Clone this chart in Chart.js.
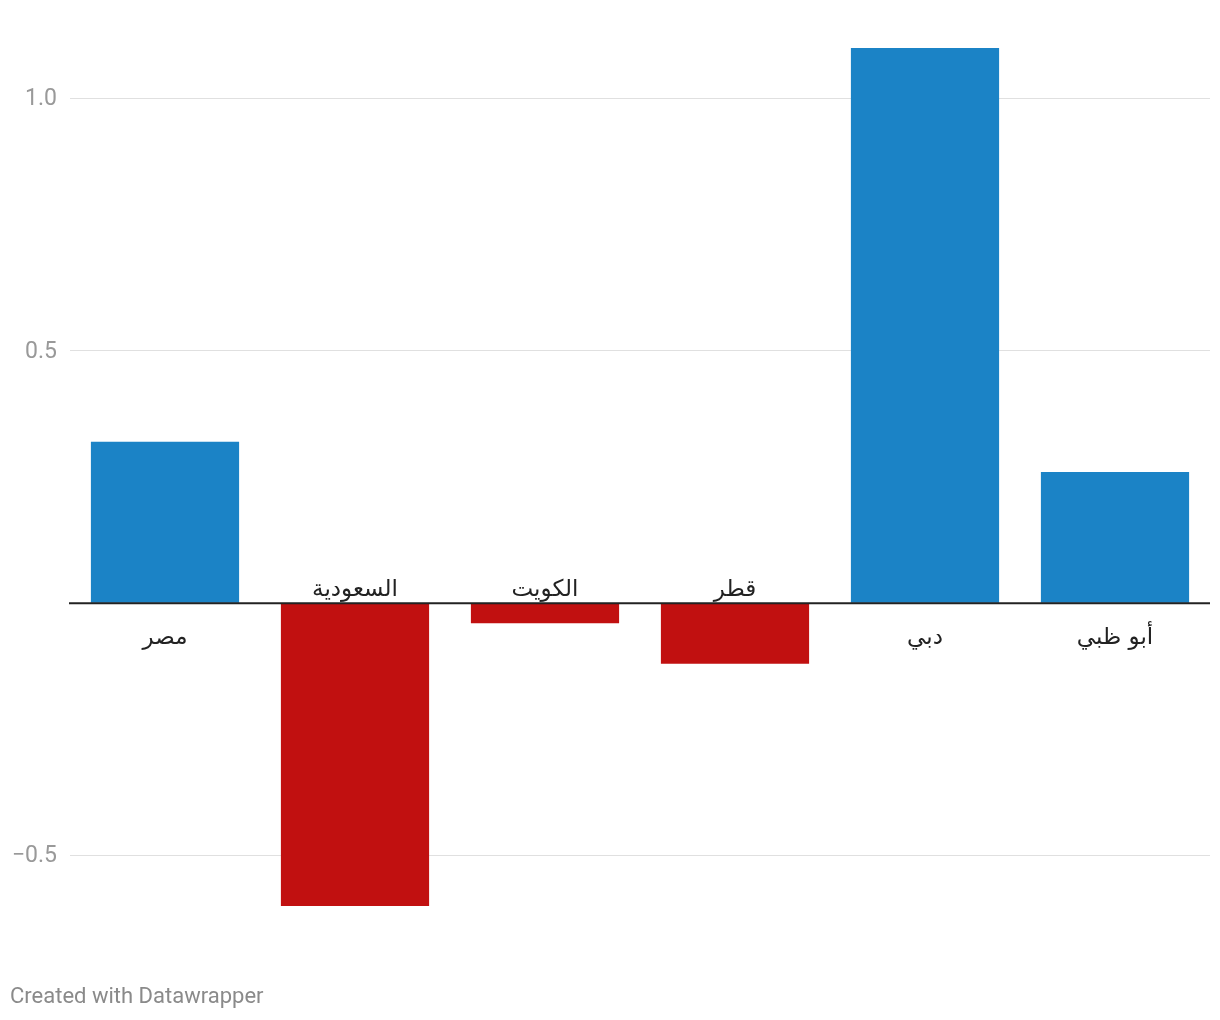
<!DOCTYPE html>
<html lang="ar">
<head>
    <meta charset="UTF-8">
    <title>Bar chart</title>
    <style>
        body {
            margin: 0;
            background: #ffffff;
            font-family: Roboto, "DejaVu Sans", sans-serif;
        }
        #wrap {
            position: relative;
            width: 1220px;
            height: 1020px;
        }
        .footer {
            position: absolute;
            left: 10px;
            top: 983px;
            font-size: 22px;
            color: #8a8a8a;
        }
    </style>
</head>
<body>
    <div id="wrap">
        <canvas id="chart" width="1220" height="1020"></canvas>
        <div class="footer">Created with Datawrapper</div>
    </div>

    <script src="https://cdn.jsdelivr.net/npm/chart.js"></script>
    <script>
        const categories = ['مصر', 'السعودية', 'الكويت', 'قطر', 'دبي', 'أبو ظبي'];
        const values = [0.32, -0.6, -0.04, -0.12, 1.1, 0.26];
        const tickValues = [-0.5, 0, 0.5, 1.0];
        const tickLabels = ['−0.5', '', '0.5', '1.0'];

        const BLUE = '#1b83c6';
        const RED = '#c11010';

        // labels for y ticks, category names and the zero line
        const overlay = {
            id: 'overlay',
            afterDatasetsDraw(chart) {
                const ctx = chart.ctx;
                const y = chart.scales.y;
                const x = chart.scales.x;
                const area = chart.chartArea;
                const zero = y.getPixelForValue(0);

                ctx.save();
                ctx.strokeStyle = '#222';
                ctx.lineWidth = 2;
                ctx.beginPath();
                ctx.moveTo(area.left - 1, zero);
                ctx.lineTo(area.right, zero);
                ctx.stroke();

                ctx.font = '23px Roboto, "DejaVu Sans", sans-serif';
                ctx.fillStyle = '#999';
                ctx.textAlign = 'right';
                ctx.textBaseline = 'middle';
                tickValues.forEach((v, i) => {
                    if (tickLabels[i]) ctx.fillText(tickLabels[i], 57, y.getPixelForValue(v) + 1);
                });

                ctx.font = '23px "DejaVu Sans", sans-serif';
                ctx.fillStyle = '#222';
                ctx.textAlign = 'center';
                categories.forEach((c, i) => {
                    const cx = x.getPixelForValue(i);
                    const ly = values[i] >= 0 ? zero + 35 : zero - 13;
                    ctx.fillText(c, cx, ly);
                });
                ctx.restore();
            }
        };

        new Chart(document.getElementById('chart'), {
            type: 'bar',
            data: {
                labels: categories,
                datasets: [{
                    data: values,
                    backgroundColor: values.map(v => v >= 0 ? BLUE : RED),
                    borderWidth: 0,
                    barPercentage: 0.78,
                    categoryPercentage: 1.0
                }]
            },
            options: {
                responsive: false,
                animation: false,
                layout: {
                    padding: { left: 70, right: 10, top: 48, bottom: 114 }
                },
                plugins: {
                    legend: { display: false },
                    tooltip: { enabled: false }
                },
                scales: {
                    x: {
                        display: false
                    },
                    y: {
                        min: -0.6,
                        max: 1.1,
                        afterBuildTicks(axis) {
                            axis.ticks = tickValues.map(v => ({ value: v }));
                        },
                        ticks: { display: false },
                        border: { display: false },
                        grid: {
                            drawTicks: false,
                            lineWidth: 1,
                            color: ctx => ctx.tick && ctx.tick.value === 0 ? 'rgba(0,0,0,0)' : '#e0e0e0'
                        }
                    }
                }
            },
            plugins: [overlay]
        });
    </script>
</body>
</html>
